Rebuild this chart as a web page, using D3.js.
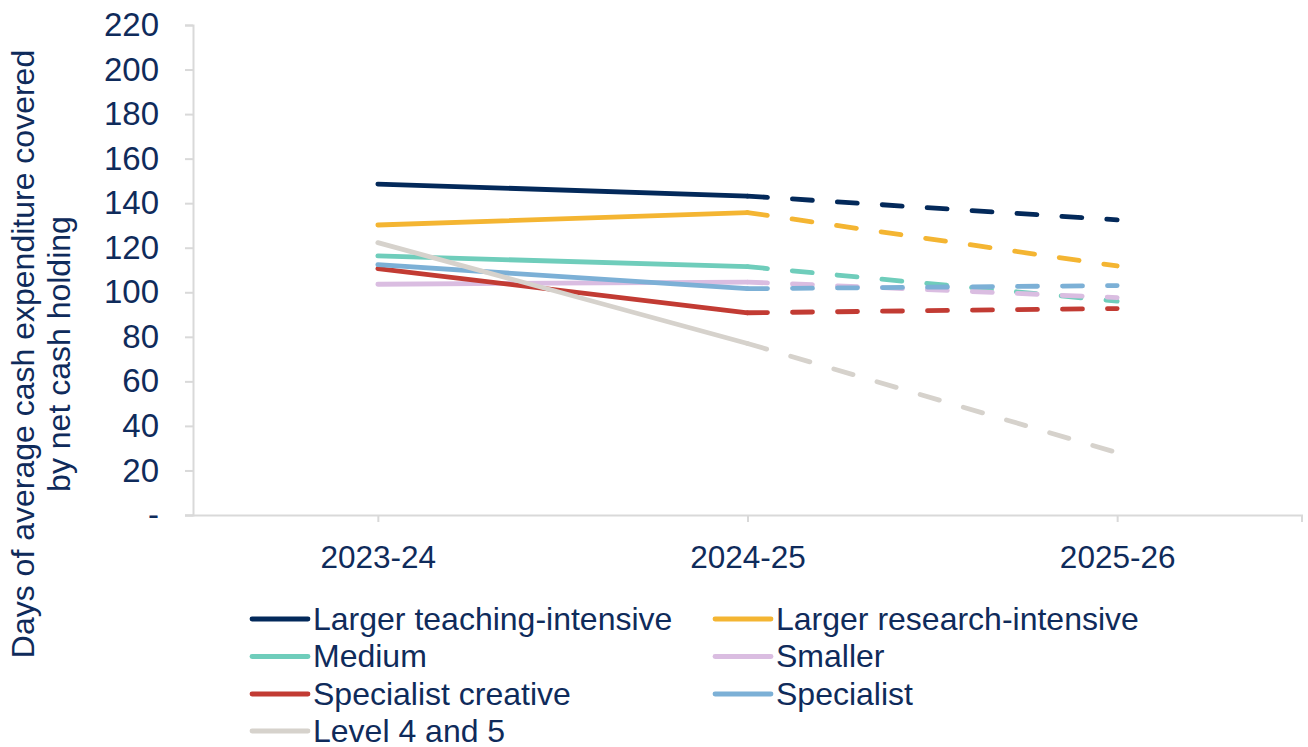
<!DOCTYPE html>
<html>
<head>
<meta charset="utf-8">
<script src="https://cdn.jsdelivr.net/npm/d3@7/dist/d3.min.js"></script>
<style>
  html, body { margin: 0; padding: 0; background: #ffffff; }
  svg { display: block; }
  text { font-family: "Liberation Sans", Arial, sans-serif; fill: #0f2b5b; }
</style>
</head>
<body>
<svg id="chart" width="1308" height="747"></svg>
<script>
const years = ["2023-24", "2024-25", "2025-26"];
const yTicks = [0, 20, 40, 60, 80, 100, 120, 140, 160, 180, 200, 220];
const seriesNames = ["Larger teaching-intensive", "Larger research-intensive", "Medium", "Smaller", "Specialist creative", "Specialist", "Level 4 and 5"];
const seriesColors = ["#03295a", "#f4b532", "#6fcdbb", "#dabde1", "#c23b33", "#7cb0d6", "#d6d2cc"];
const teachingValues = [148.6, 143.2, 132.5];
const researchValues = [130.2, 135.8, 111.8];
const mediumValues = [116.3, 111.5, 96.0];
const smallerValues = [103.6, 104.6, 97.6];
const creativeValues = [110.6, 90.8, 92.7];
const specialistValues = [112.4, 101.6, 103.0];
const levelValues = [122.3, 77.0, 28.0];
const allValues = [teachingValues, researchValues, mediumValues, smallerValues, creativeValues, specialistValues, levelValues];
const yTitleLines = ["Days of average cash expenditure covered", "by net cash holding"];

(function () {
const svg = d3.select("#chart");
const plotLeft = 193, plotRight = 1302, plotTop = 25, plotBottom = 515;

const x = d3.scalePoint().domain(years).range([plotLeft, plotRight]).padding(0.5);
const y = d3.scaleLinear().domain([0, 220]).range([plotBottom, plotTop]);
const axisColor = "#d9d9d9";

// Y axis
const yAxis = svg.append("g").attr("transform", `translate(${plotLeft},0)`)
  .call(d3.axisLeft(y).tickValues(yTicks).tickSize(8).tickPadding(26)
        .tickFormat(d => d === 0 ? "-" : d));
yAxis.select(".domain").attr("stroke", axisColor).attr("stroke-width", 2);
yAxis.selectAll(".tick line").attr("stroke", axisColor).attr("stroke-width", 2);
yAxis.selectAll(".tick text").style("font-size", "33px").attr("fill", "#0f2b5b")
  .style("font-family", "'Liberation Sans', Arial, sans-serif");

// X axis
const xAxis = svg.append("g").attr("transform", `translate(0,${plotBottom})`)
  .call(d3.axisBottom(x).tickSize(7).tickPadding(18).tickSizeOuter(0));
xAxis.select(".domain").attr("stroke", axisColor).attr("stroke-width", 2)
  .attr("d", `M${plotLeft - 8},0.5H${plotRight}V7`);
xAxis.selectAll(".tick line").attr("stroke", axisColor).attr("stroke-width", 2);
xAxis.selectAll(".tick text").style("font-size", "31.5px").attr("fill", "#0f2b5b")
  .style("font-family", "'Liberation Sans', Arial, sans-serif")
  .attr("dy", "0.9em");

// Lines
const line = d3.line().x(d => x(d.year)).y(d => y(d.value));
allValues.forEach((vals, i) => {
  const pts = vals.map((v, j) => ({ year: years[j], value: v }));
  svg.append("path").datum(pts.slice(0, 2))
    .attr("d", line).attr("fill", "none")
    .attr("stroke", seriesColors[i]).attr("stroke-width", 4.8)
    .attr("stroke-linecap", "round").attr("stroke-linejoin", "round");
  svg.append("path").datum(pts.slice(1))
    .attr("d", line).attr("fill", "none")
    .attr("stroke", seriesColors[i]).attr("stroke-width", 4.8)
    .attr("stroke-linecap", "round").attr("stroke-dasharray", "20,25");
});

// Y title
const yt = svg.append("text")
  .attr("transform", "translate(34,354) rotate(-90)")
  .attr("text-anchor", "middle")
  .style("font-size", "32px");
yt.append("tspan").attr("x", 0).attr("y", 0).text(yTitleLines[0]);
yt.append("tspan").attr("x", 0).attr("y", 36).text(yTitleLines[1]);

// Legend
const legCols = [252, 715];
const legRows = [619, 656.5, 694, 731];
seriesNames.forEach((name, i) => {
  const cx = legCols[i % 2], cy = legRows[Math.floor(i / 2)];
  svg.append("line").attr("x1", cx).attr("x2", cx + 56).attr("y1", cy).attr("y2", cy)
    .attr("stroke", seriesColors[i]).attr("stroke-width", 4.8).attr("stroke-linecap", "round");
  svg.append("text").attr("x", cx + 61).attr("y", cy + 10.5)
    .style("font-size", "32px").text(name);
});
})();
</script>
</body>
</html>
